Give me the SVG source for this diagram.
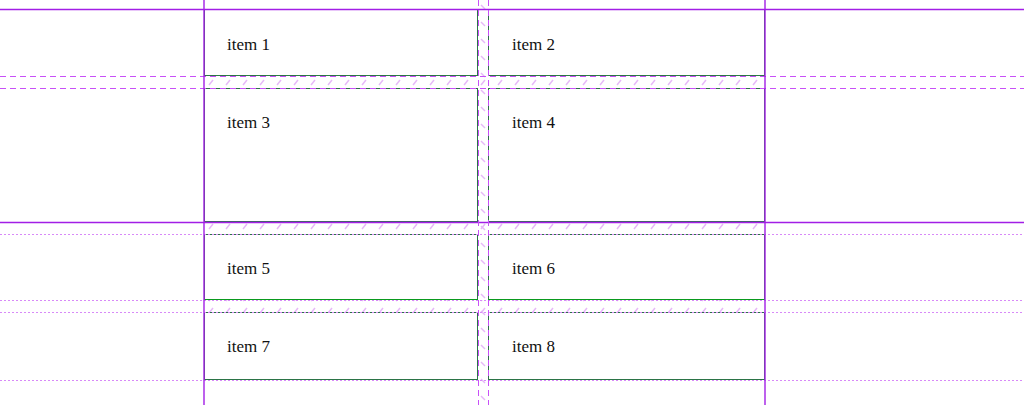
<svg xmlns="http://www.w3.org/2000/svg" width="1024" height="405" viewBox="0 0 1024 405">
<defs>
<pattern id="hatchRow" patternUnits="userSpaceOnUse" width="17" height="12" x="0" y="76">
<line x1="5" y1="9" x2="9" y2="4" stroke="#e6b8f8" stroke-width="1.5"/>
</pattern>
<pattern id="hatchCol" patternUnits="userSpaceOnUse" width="10" height="17" x="478" y="0">
<line x1="3" y1="5" x2="7" y2="9" stroke="#e6b8f8" stroke-width="1.5"/>
</pattern>
<style>
.item rect{fill:#ffffff;stroke:#2b7446;stroke-width:1}
.item text{font-size:17px;fill:#111}
.solid{stroke:#a21ee6;stroke-width:1.4;fill:none}
.dash{stroke:#c850f8;stroke-width:1;stroke-dasharray:6 4;fill:none}
.dot{stroke:#d88af8;stroke-width:1;stroke-dasharray:2 2;fill:none}
</style>
</defs>
<rect width="1024" height="405" fill="#ffffff"/>
<g id="gaps">
<rect x="204" y="76" width="561" height="12" fill="url(#hatchRow)"/>
<rect x="204" y="222" width="561" height="12" fill="url(#hatchRow)"/>
<rect x="204" y="300" width="561" height="12" fill="url(#hatchRow)"/>
<rect x="478" y="0" width="10" height="405" fill="url(#hatchCol)"/>
</g>
<g id="item1" class="item"><rect x="204.5" y="9.5" width="273" height="66"/><text x="227" y="50" font-family="Liberation Serif, DejaVu Serif, serif">item 1</text></g>
<g id="item2" class="item"><rect x="488.5" y="9.5" width="276" height="66"/><text x="512" y="50" font-family="Liberation Serif, DejaVu Serif, serif">item 2</text></g>
<g id="item3" class="item"><rect x="204.5" y="88.5" width="273" height="133"/><text x="227" y="128" font-family="Liberation Serif, DejaVu Serif, serif">item 3</text></g>
<g id="item4" class="item"><rect x="488.5" y="88.5" width="276" height="133"/><text x="512" y="128" font-family="Liberation Serif, DejaVu Serif, serif">item 4</text></g>
<g id="item5" class="item"><rect x="204.5" y="234.5" width="273" height="65"/><line x1="204" y1="299.5" x2="478" y2="299.5" stroke="#0a9a1e"/><text x="227" y="274" font-family="Liberation Serif, DejaVu Serif, serif">item 5</text></g>
<g id="item6" class="item"><rect x="488.5" y="234.5" width="276" height="65"/><line x1="488" y1="299.5" x2="765" y2="299.5" stroke="#0a9a1e"/><text x="512" y="274" font-family="Liberation Serif, DejaVu Serif, serif">item 6</text></g>
<g id="item7" class="item"><rect x="204.5" y="312.5" width="273" height="67"/><text x="227" y="352" font-family="Liberation Serif, DejaVu Serif, serif">item 7</text></g>
<g id="item8" class="item"><rect x="488.5" y="312.5" width="276" height="67"/><text x="512" y="352" font-family="Liberation Serif, DejaVu Serif, serif">item 8</text></g>
<g id="gridlines">
<line class="solid" x1="0" y1="9.5" x2="1024" y2="9.5"/>
<line class="dash" x1="0" y1="76.5" x2="1024" y2="76.5"/>
<line class="dash" x1="0" y1="88.5" x2="1024" y2="88.5"/>
<line class="solid" x1="0" y1="222.5" x2="1024" y2="222.5"/>
<line class="dot" x1="0" y1="234.5" x2="1024" y2="234.5"/>
<line class="dot" x1="0" y1="300.5" x2="1024" y2="300.5"/>
<line class="dot" x1="0" y1="312.5" x2="1024" y2="312.5"/>
<line class="dot" x1="0" y1="380.5" x2="1024" y2="380.5"/>
<line class="solid" x1="204" y1="0" x2="204" y2="405"/>
<line class="dash" x1="478.5" y1="0" x2="478.5" y2="405"/>
<line class="dash" x1="488.5" y1="0" x2="488.5" y2="405"/>
<line class="solid" x1="765" y1="0" x2="765" y2="405"/>
</g>
</svg>
